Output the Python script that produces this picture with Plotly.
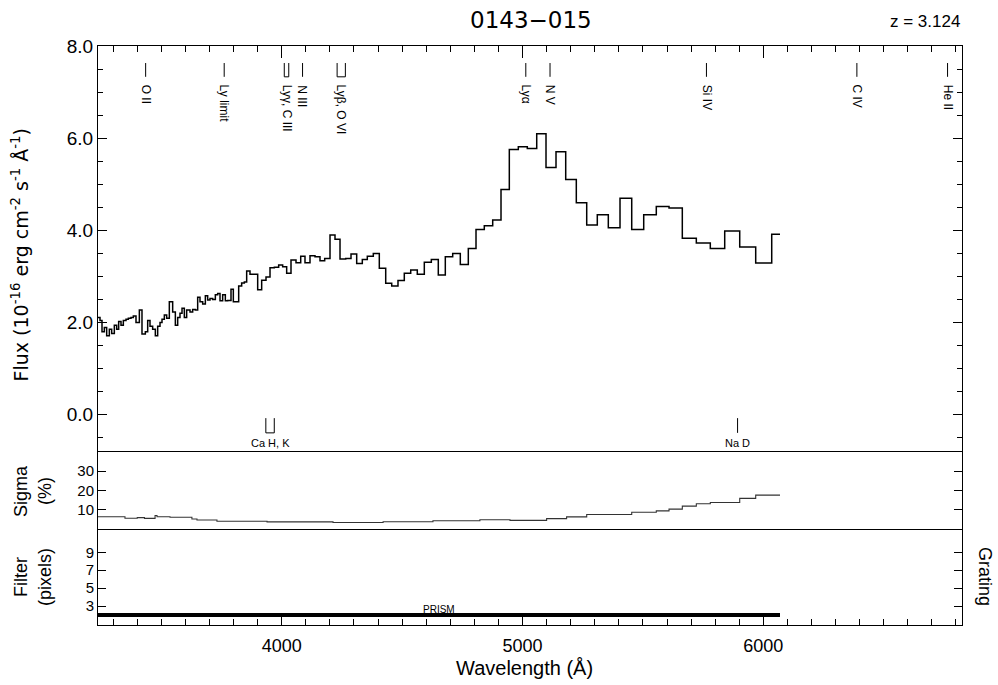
import plotly.graph_objects as go

# ---------------- data ----------------
Z = 3.124
X_RANGE = [3237, 6825]

# flux spectrum: left bin edges (Angstrom) and flux (1e-16 erg/cm2/s/A)
flux_edges = [
    3237.0, 3245.3, 3253.6, 3263.3, 3273.0, 3284.1, 3293.8, 3304.8, 3314.5, 3322.8,
    3332.5, 3342.2, 3353.3, 3363.0, 3374.0, 3383.7, 3394.8, 3408.7, 3419.7, 3433.6,
    3443.3, 3453.0, 3464.0, 3475.1, 3484.8, 3494.5, 3502.8, 3512.5, 3522.2, 3533.2,
    3547.1, 3558.2, 3567.9, 3577.5, 3585.9, 3595.5, 3605.2, 3619.1, 3630.1, 3641.2,
    3650.9, 3660.6, 3671.7, 3682.8, 3692.4, 3702.1, 3713.2, 3724.3, 3734.0, 3743.7,
    3754.7, 3765.8, 3775.5, 3789.3, 3799.0, 3821.2, 3833.6, 3844.7, 3854.4, 3868.2,
    3900.1, 3916.7, 3934.7, 3951.3, 3969.3, 3987.3, 4003.9, 4020.5, 4038.5, 4059.3,
    4078.8, 4096.6, 4117.4, 4138.2, 4158.9, 4178.4, 4200.5, 4221.2, 4242.0, 4265.7,
    4287.7, 4311.3, 4334.6, 4355.4, 4380.3, 4405.2, 4431.8, 4456.7, 4482.8, 4509.0,
    4535.6, 4563.0, 4592.1, 4621.2, 4650.2, 4679.3, 4710.0, 4741.6, 4774.8, 4806.8,
    4841.2, 4876.1, 4910.6, 4945.1, 4982.5, 5019.8, 5058.9, 5097.5, 5139.0, 5179.3,
    5223.3, 5266.5, 5310.5, 5356.2, 5404.8, 5453.4, 5503.2, 5555.5, 5608.3, 5663.5,
    5721.7, 5779.8, 5839.6, 5901.9, 5968.3, 6034.8,
]
flux_vals = [
    2.10, 2.03, 1.79, 1.88, 1.70, 1.84, 1.75, 1.93, 1.84, 2.01,
    1.93, 2.03, 2.06, 2.08, 2.10, 2.13, 1.99, 2.26, 1.74, 1.79,
    2.03, 1.91, 1.84, 1.70, 1.91, 1.99, 2.06, 2.15, 2.08, 2.44,
    2.22, 1.93, 2.10, 2.19, 2.30, 2.10, 2.26, 2.22, 2.27, 2.26,
    2.54, 2.44, 2.39, 2.57, 2.48, 2.51, 2.49, 2.59, 2.62, 2.46,
    2.59, 2.46, 2.47, 2.71, 2.44, 2.78, 2.85, 2.87, 3.11, 3.04,
    2.70, 2.91, 2.98, 3.18, 3.19, 3.24, 3.20, 3.06, 3.35, 3.29,
    3.43, 3.29, 3.44, 3.42, 3.33, 3.38, 3.89, 3.80, 3.37, 3.38,
    3.48, 3.27, 3.36, 3.43, 3.49, 3.17, 2.84, 2.78, 2.90, 3.06,
    3.13, 3.04, 3.30, 3.36, 3.02, 3.42, 3.49, 3.25, 3.60, 4.01,
    4.09, 4.22, 4.88, 5.75, 5.81, 5.77, 6.09, 5.36, 5.70, 5.10,
    4.59, 4.11, 4.33, 4.05, 4.69, 4.01, 4.33, 4.51, 4.48, 3.82,
    3.72, 3.60, 3.98, 3.63, 3.28, 3.91,
]
flux_end = 6069.2

# sigma (%)
sigma_edges = [3237, 3349, 3400, 3430, 3474, 3482, 3536, 3627, 3648, 3731, 3939, 4213,
               4421, 4628, 4823, 4948, 5100, 5183, 5266.5, 5453.4, 5555.5, 5608.3,
               5663.5, 5721.7, 5779.8, 5901.9, 5968.3]
sigma_vals = [6.4, 5.6, 5.9, 5.5, 7.0, 6.4, 6.1, 5.2, 4.7, 4.0, 3.7, 3.4,
              3.8, 4.3, 4.8, 4.5, 5.4, 6.3, 7.5, 8.7, 9.4, 10.3,
              11.9, 13.1, 13.8, 15.9, 17.6]
sigma_end = 6069.2

# filter / grating
filter_start = 3237
filter_end = 6069.2
filter_value = 2
grating_name = "PRISM"

# emission lines (rest wavelengths, Angstrom)
line_names = ["O II", "Ly limit", "Lyγ, C III", "N III", "Lyβ, O VI",
              "Lyα", "N V", "Si IV", "C IV", "He II"]
line_rest = [[832.9], [912.0], [972.5, 977.0], [990.9], [1025.7, 1034.0],
             [1215.7], [1240.1], [1397.6], [1549.1], [1640.4]]

# absorption features at z = 0 (observed wavelengths)
abs_names = ["Ca H, K", "Na D"]
abs_obs = [[3934.0, 3969.0], [5893.0]]

# ---------------- figure ----------------
FONT = "Liberation Sans"
WIDE = "DejaVu Sans"
fig = go.Figure()

fx = flux_edges + [flux_end]
fy = flux_vals + [flux_vals[-1]]
fig.add_trace(go.Scatter(x=fx, y=fy, mode="lines", line=dict(shape="hv", color="black", width=1.5),
                         xaxis="x2", yaxis="y", showlegend=False, hoverinfo="skip"))

sx = sigma_edges + [sigma_end]
sy = sigma_vals + [sigma_vals[-1]]
fig.add_trace(go.Scatter(x=sx, y=sy, mode="lines", line=dict(shape="hv", color="#333", width=1.1),
                         xaxis="x3", yaxis="y2", showlegend=False, hoverinfo="skip"))

fig.add_trace(go.Scatter(x=[filter_start, filter_end], y=[filter_value, filter_value], mode="lines",
                         line=dict(color="black", width=4), xaxis="x", yaxis="y3",
                         showlegend=False, hoverinfo="skip"))

D1 = [0.2988, 1.0]
D2 = [0.1658, 0.2988]
D3 = [0.0, 0.1658]

tickfont = dict(family=FONT, size=18, color="black")
tickfont_big = dict(family=FONT, size=19, color="black")
tickfont_small = dict(family=FONT, size=15, color="black")
common_x = dict(range=X_RANGE, showgrid=False, zeroline=False, showline=True,
                linecolor="black", linewidth=1)

fig.update_layout(
    width=998, height=685,
    margin=dict(l=98, r=36, t=46, b=60),
    plot_bgcolor="white", paper_bgcolor="white",
    font=dict(family=FONT, color="black"),
    xaxis=dict(domain=[0, 1], anchor="y3", ticks="inside", ticklen=12, tickwidth=1, tickcolor="black",
               tick0=0, dtick=1000, tickfont=tickfont, ticklabelstandoff=4,
               minor=dict(dtick=100, tick0=0, ticks="inside", ticklen=6, tickcolor="black"),
               **common_x),
    xaxis2=dict(anchor="y", side="top", ticks="inside", ticklen=12, tickcolor="black",
                tick0=0, dtick=1000, showticklabels=False,
                minor=dict(dtick=100, tick0=0, ticks="inside", ticklen=6, tickcolor="black"),
                **common_x),
    xaxis3=dict(anchor="y2", ticks="", showticklabels=False, mirror=True, **common_x),
    yaxis=dict(domain=D1, anchor="x2", range=[-0.826, 8.0], tick0=0, dtick=2, tickformat=".1f",
               ticks="inside", ticklen=9, tickcolor="black", mirror="ticks", showline=True,
               linecolor="black", showgrid=False, zeroline=False, tickfont=tickfont_big,
               minor=dict(dtick=0.5, tick0=0, ticks="inside", ticklen=5, tickcolor="black")),
    yaxis2=dict(domain=D2, anchor="x3", range=[0, 40], tickvals=[10, 20, 30],
                ticks="inside", ticklen=8, tickcolor="black", mirror="ticks", showline=True,
                linecolor="black", showgrid=False, zeroline=False, tickfont=tickfont_small),
    yaxis3=dict(domain=D3, anchor="x", range=[0.88, 11.6], tickvals=[3, 5, 7, 9],
                ticks="inside", ticklen=8, tickcolor="black", mirror="ticks", showline=True,
                linecolor="black", showgrid=False, zeroline=False, tickfont=tickfont_small),
)

shapes = []
annotations = []
lc = dict(color="black", width=1)
# emission line markers
for name, rests in zip(line_names, line_rest):
    obs = [r * (1 + Z) for r in rests]
    for w in obs:
        shapes.append(dict(type="line", xref="x2", yref="y", x0=w, x1=w, y0=7.63, y1=7.33, line=lc))
    if len(obs) > 1:
        shapes.append(dict(type="line", xref="x2", yref="y", x0=obs[0], x1=obs[-1], y0=7.33, y1=7.33, line=lc))
    xc = sum(obs) / len(obs)
    annotations.append(dict(x=xc, y=7.2, xref="x2", yref="y", text=name, textangle=90,
                            showarrow=False, xanchor="center", yanchor="top",
                            font=dict(family=FONT, size=12, color="black")))
# absorption markers
for name, ws in zip(abs_names, abs_obs):
    for w in ws:
        shapes.append(dict(type="line", xref="x2", yref="y", x0=w, x1=w, y0=-0.09, y1=-0.41, line=lc))
    if len(ws) > 1:
        shapes.append(dict(type="line", xref="x2", yref="y", x0=ws[0], x1=ws[-1], y0=-0.41, y1=-0.41, line=lc))
    xc = sum(ws) / len(ws)
    annotations.append(dict(x=xc, y=-0.63, xref="x2", yref="y", text=name, showarrow=False,
                            xanchor="center", yanchor="middle",
                            font=dict(family=FONT, size=11, color="black")))

annotations.append(dict(x=(filter_start + filter_end) / 2, y=2.61, xref="x", yref="y3", text=grating_name,
                        showarrow=False, xanchor="center", yanchor="middle",
                        font=dict(family=FONT, size=10, color="black")))

def ann(text, x, y, size, angle=0, xanchor="center", yanchor="middle", family=FONT):
    annotations.append(dict(x=x, y=y, xref="paper", yref="paper", text=text, textangle=angle,
                            showarrow=False, xanchor=xanchor, yanchor=yanchor,
                            font=dict(family=family, size=size, color="black")))

ann("0143−015", 0.5012, 1.0449, 23, family=WIDE)
ann("z = 3.124", 1.0, 1.0415, 17, xanchor="right")
ann("Flux (10<sup>-16</sup> erg cm<sup>-2</sup> s<sup>-1</sup> Å<sup>-1</sup>)", -0.0903, 0.64, 19,
    angle=-90, family=WIDE)
ann("Sigma", -0.0891, 0.2314, 18, angle=-90)
ann("(%)", -0.0613, 0.2314, 18, angle=-90)
ann("Filter", -0.0891, 0.0829, 18, angle=-90)
ann("(pixels)", -0.0613, 0.0829, 18, angle=-90)
ann("Grating", 1.0266, 0.0829, 18, angle=90)
ann("Wavelength (Å)", 0.4942, -0.0735, 20)

fig.update_layout(shapes=shapes, annotations=annotations)
fig.write_html("out.html")
